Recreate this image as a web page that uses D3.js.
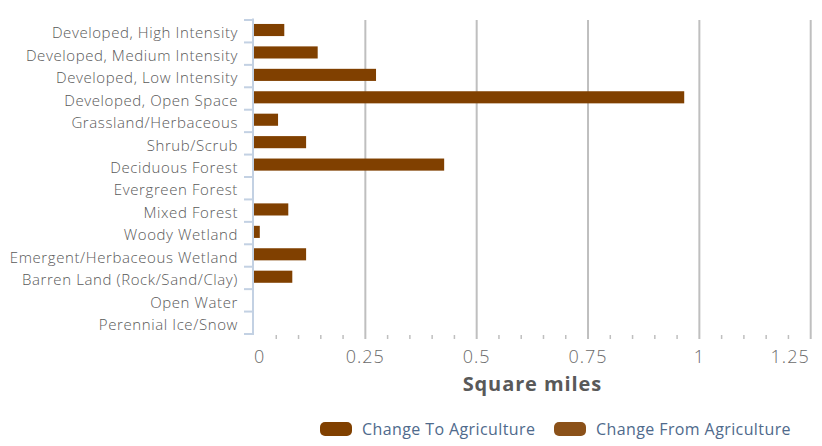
<!DOCTYPE html>
<html><head><meta charset="utf-8">
<script src="https://cdn.jsdelivr.net/npm/d3@7"></script>
<style>body{margin:0;background:#fff;} svg{display:block;}</style>
</head><body>
<svg id="chart" width="822" height="446"></svg>
<script>
const categories = ["Developed, High Intensity","Developed, Medium Intensity","Developed, Low Intensity","Developed, Open Space","Grassland/Herbaceous","Shrub/Scrub","Deciduous Forest","Evergreen Forest","Mixed Forest","Woody Wetland","Emergent/Herbaceous Wetland","Barren Land (Rock/Sand/Clay)","Open Water","Perennial Ice/Snow"];
const changeTo = [0.068,0.143,0.274,0.966,0.054,0.117,0.427,0,0.077,0.013,0.117,0.086,0,0];
const changeFrom = [0,0,0,0,0,0,0,0,0,0,0,0,0,0];
const seriesNames = ["Change To Agriculture","Change From Agriculture"];
const seriesColors = ["#804000","#8b5119"];
const xTicks = [0,0.25,0.5,0.75,1,1.25];
const xTickLabels = ["0","0.25","0.5","0.75","1","1.25"];
const axisTitle = "Square miles";

const svg = d3.select("#chart");
const L = 254, R = 810.7, T = 20, B = 334;
const x = d3.scaleLinear().domain([0,1.25]).range([L,R]);
const y = d3.scaleBand().domain(categories).range([T,B]).paddingInner(0.46).paddingOuter(0.23);
const yb = d3.scaleBand().domain(categories).range([T,B]);

// gridlines
svg.append("g").selectAll("line").data(xTicks.slice(1)).join("line")
  .attr("x1",d=>x(d)).attr("x2",d=>x(d)).attr("y1",T).attr("y2",B+5)
  .attr("stroke","#bfbfbf").attr("stroke-width",2);
// minor ticks
const minor = d3.range(1,25).map(i=>i*0.05).filter(v=>Math.abs(v/0.25-Math.round(v/0.25))>1e-6);
svg.append("g").selectAll("line").data(minor).join("line")
  .attr("x1",d=>x(d)).attr("x2",d=>x(d)).attr("y1",B+1).attr("y2",B+5)
  .attr("stroke","#bfbfbf").attr("stroke-width",1.5);

// bars (stacked)
const stackData = categories.map((c,i)=>({cat:c, to:changeTo[i], from:changeFrom[i]}));
const stacked = d3.stack().keys(["to","from"])(stackData);
svg.append("g").selectAll("g").data(stacked).join("g").attr("fill",(d,i)=>seriesColors[i])
  .selectAll("rect").data(d=>d).join("rect")
  .attr("x",d=>x(d[0])).attr("width",d=>Math.max(0,x(d[1])-x(d[0])))
  .attr("y",d=>y(d.data.cat)-1.2).attr("height",y.bandwidth());

// y axis
svg.append("line").attr("x1",L-1).attr("x2",L-1).attr("y1",T-1.5).attr("y2",B+1)
  .attr("stroke","#c3d1e3").attr("stroke-width",2);
const bounds = d3.range(categories.length+1).map(i=>T+i*yb.step());
svg.append("g").selectAll("line").data(bounds).join("line")
  .attr("x1",L-10).attr("x2",L-1).attr("y1",d=>d).attr("y2",d=>d)
  .attr("stroke","#c3d1e3").attr("stroke-width",2);
svg.append("g").selectAll("text").data(categories).join("text")
  .attr("x",238).attr("y",d=>yb(d)+yb.bandwidth()/2+2).attr("dy","0.35em")
  .attr("text-anchor","end").attr("font-family","Open Sans").attr("font-size",15)
  .attr("letter-spacing",0.6).attr("font-weight",300)
  .attr("fill","#595959").text(d=>d);

// x tick labels
svg.append("g").selectAll("text").data(xTicks).join("text")
  .attr("x",(d,i)=> i===0 ? x(d) : (i===xTicks.length-1 ? x(d)-1 : x(d)))
  .attr("y",363)
  .attr("text-anchor",(d,i)=> i===0 ? "start" : (i===xTicks.length-1 ? "end":"middle"))
  .attr("font-family","Open Sans").attr("font-weight",300).attr("font-size",18)
  .attr("letter-spacing",1)
  .attr("fill","#6b6b6b").text((d,i)=>xTickLabels[i]);

svg.append("text").attr("x",(L+R)/2).attr("y",391).attr("text-anchor","middle")
  .attr("font-family","Open Sans").attr("font-weight",700).attr("font-size",20)
  .attr("letter-spacing",0.9)
  .attr("fill","#595959").text(axisTitle);

// legend
const lg = svg.append("g");
const legX = [320,554];
seriesNames.forEach((n,i)=>{
  lg.append("rect").attr("x",legX[i]).attr("y",422).attr("width",32).attr("height",14).attr("rx",5)
    .attr("fill",seriesColors[i]);
  lg.append("text").attr("x",legX[i]+42).attr("y",429).attr("dy","0.35em")
    .attr("font-family","Open Sans").attr("font-size",16).attr("letter-spacing",0.4)
    .attr("fill","#4f6a8c").text(n);
});
</script>
</body></html>
